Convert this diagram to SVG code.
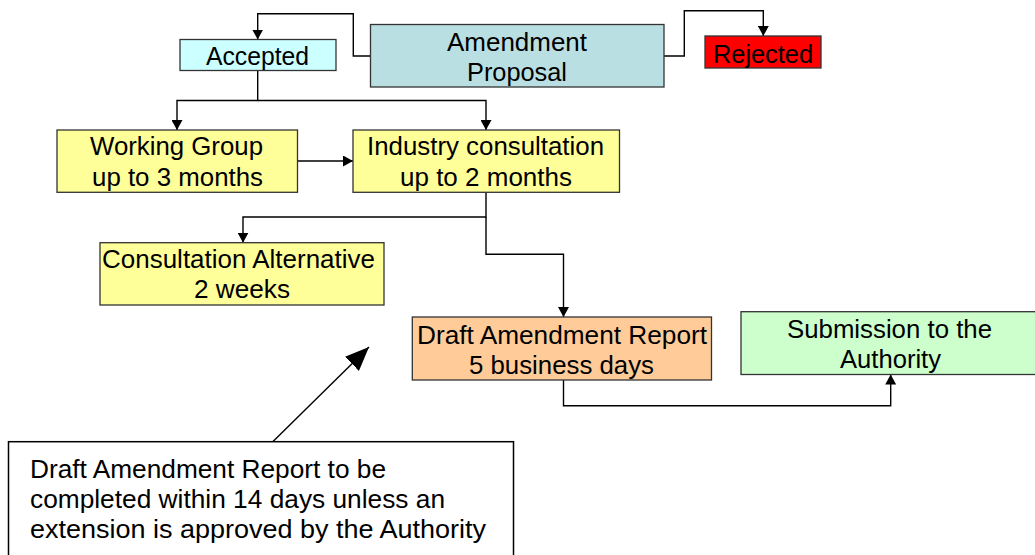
<svg xmlns="http://www.w3.org/2000/svg" width="1035" height="555" viewBox="0 0 1035 555">
<defs>
<style>
.box{stroke:#333;stroke-width:1.3}
.t{font-family:"Liberation Sans",Arial,sans-serif;font-size:26px;fill:#000}
.c{fill:none;stroke:#000;stroke-width:1.4}
</style>
<marker id="ah" viewBox="0 0 10 11" refX="10" refY="5.5" markerWidth="10" markerHeight="11" markerUnits="userSpaceOnUse" orient="auto">
<path d="M0,0 L10,5.5 L0,11 z" fill="#000"/>
</marker>
<marker id="big" viewBox="0 0 24 20" refX="24" refY="10" markerWidth="24" markerHeight="20" markerUnits="userSpaceOnUse" orient="auto">
<path d="M0,0 L24,10 L0,20 z" fill="#000"/>
</marker>
</defs>
<rect width="1035" height="555" fill="#fff"/>
<g id="connectors">
<path class="c" d="M370.5,56 H353.3 V13.7 H257.7 V39.5" marker-end="url(#ah)"/>
<path class="c" d="M664,56 H684.3 V10.7 H763.3 V36" marker-end="url(#ah)"/>
<path class="c" d="M257.7,70.5 V100.5 H177 V130" marker-end="url(#ah)"/>
<path class="c" d="M257.7,100.5 H486 V130" marker-end="url(#ah)"/>
<path class="c" d="M297.5,161 H353" marker-end="url(#ah)"/>
<path class="c" d="M486,192.3 V217 H243 V242.7" marker-end="url(#ah)"/>
<path class="c" d="M486,217 V254.3 H563.5 V317" marker-end="url(#ah)"/>
<path class="c" d="M563.5,380 V405.7 H890.7 V374.5" marker-end="url(#ah)"/>
<path class="c" d="M273,441.5 L369,347" marker-end="url(#big)"/>
</g>
<g id="accepted">
<rect class="box" x="180" y="39.5" width="156" height="31" fill="#CCFFFF"/>
<text class="t" x="206" y="64.5" textLength="103" lengthAdjust="spacingAndGlyphs">Accepted</text>
</g>
<g id="amendment-proposal">
<rect class="box" x="370.5" y="24.5" width="293.5" height="62.5" fill="#B9DFE3"/>
<text class="t" x="447" y="51" textLength="140" lengthAdjust="spacingAndGlyphs">Amendment</text>
<text class="t" x="467" y="80.5" textLength="100" lengthAdjust="spacingAndGlyphs">Proposal</text>
</g>
<g id="rejected">
<rect class="box" x="705" y="36" width="116" height="32" fill="#FF0000"/>
<text class="t" x="713" y="62.5" textLength="100" lengthAdjust="spacingAndGlyphs">Rejected</text>
</g>
<g id="working-group">
<rect class="box" x="57" y="130" width="240.5" height="62.3" fill="#FFFF99"/>
<text class="t" x="90" y="155" textLength="173" lengthAdjust="spacingAndGlyphs">Working Group</text>
<text class="t" x="92" y="186" textLength="171" lengthAdjust="spacingAndGlyphs">up to 3 months</text>
</g>
<g id="industry-consultation">
<rect class="box" x="353" y="130" width="266.5" height="62.3" fill="#FFFF99"/>
<text class="t" x="367" y="155" textLength="237" lengthAdjust="spacingAndGlyphs">Industry consultation</text>
<text class="t" x="400" y="186" textLength="172" lengthAdjust="spacingAndGlyphs">up to 2 months</text>
</g>
<g id="consultation-alternative">
<rect class="box" x="100" y="242.7" width="284" height="62.3" fill="#FFFF99"/>
<text class="t" x="102" y="267.5" textLength="273" lengthAdjust="spacingAndGlyphs">Consultation Alternative</text>
<text class="t" x="194" y="298" textLength="96" lengthAdjust="spacingAndGlyphs">2 weeks</text>
</g>
<g id="draft-report">
<rect class="box" x="412.3" y="317" width="299.2" height="63" fill="#FFCC99"/>
<text class="t" x="417" y="343.5" textLength="290" lengthAdjust="spacingAndGlyphs">Draft Amendment Report</text>
<text class="t" x="469" y="374" textLength="185" lengthAdjust="spacingAndGlyphs">5 business days</text>
</g>
<g id="submission">
<rect class="box" x="741" y="311.7" width="300" height="62.8" fill="#CCFFCC"/>
<text class="t" x="787" y="338" textLength="205" lengthAdjust="spacingAndGlyphs">Submission to the</text>
<text class="t" x="840" y="367.5" textLength="101" lengthAdjust="spacingAndGlyphs">Authority</text>
</g>
<g id="note">
<rect x="8.5" y="441.7" width="505" height="125" fill="#fff" stroke="#000" stroke-width="1.5"/>
<text class="t" x="30" y="478" textLength="356" lengthAdjust="spacingAndGlyphs">Draft Amendment Report to be</text>
<text class="t" x="30" y="508" textLength="415" lengthAdjust="spacingAndGlyphs">completed within 14 days unless an</text>
<text class="t" x="30" y="538" textLength="456" lengthAdjust="spacingAndGlyphs">extension is approved by the Authority</text>
</g>
</svg>
